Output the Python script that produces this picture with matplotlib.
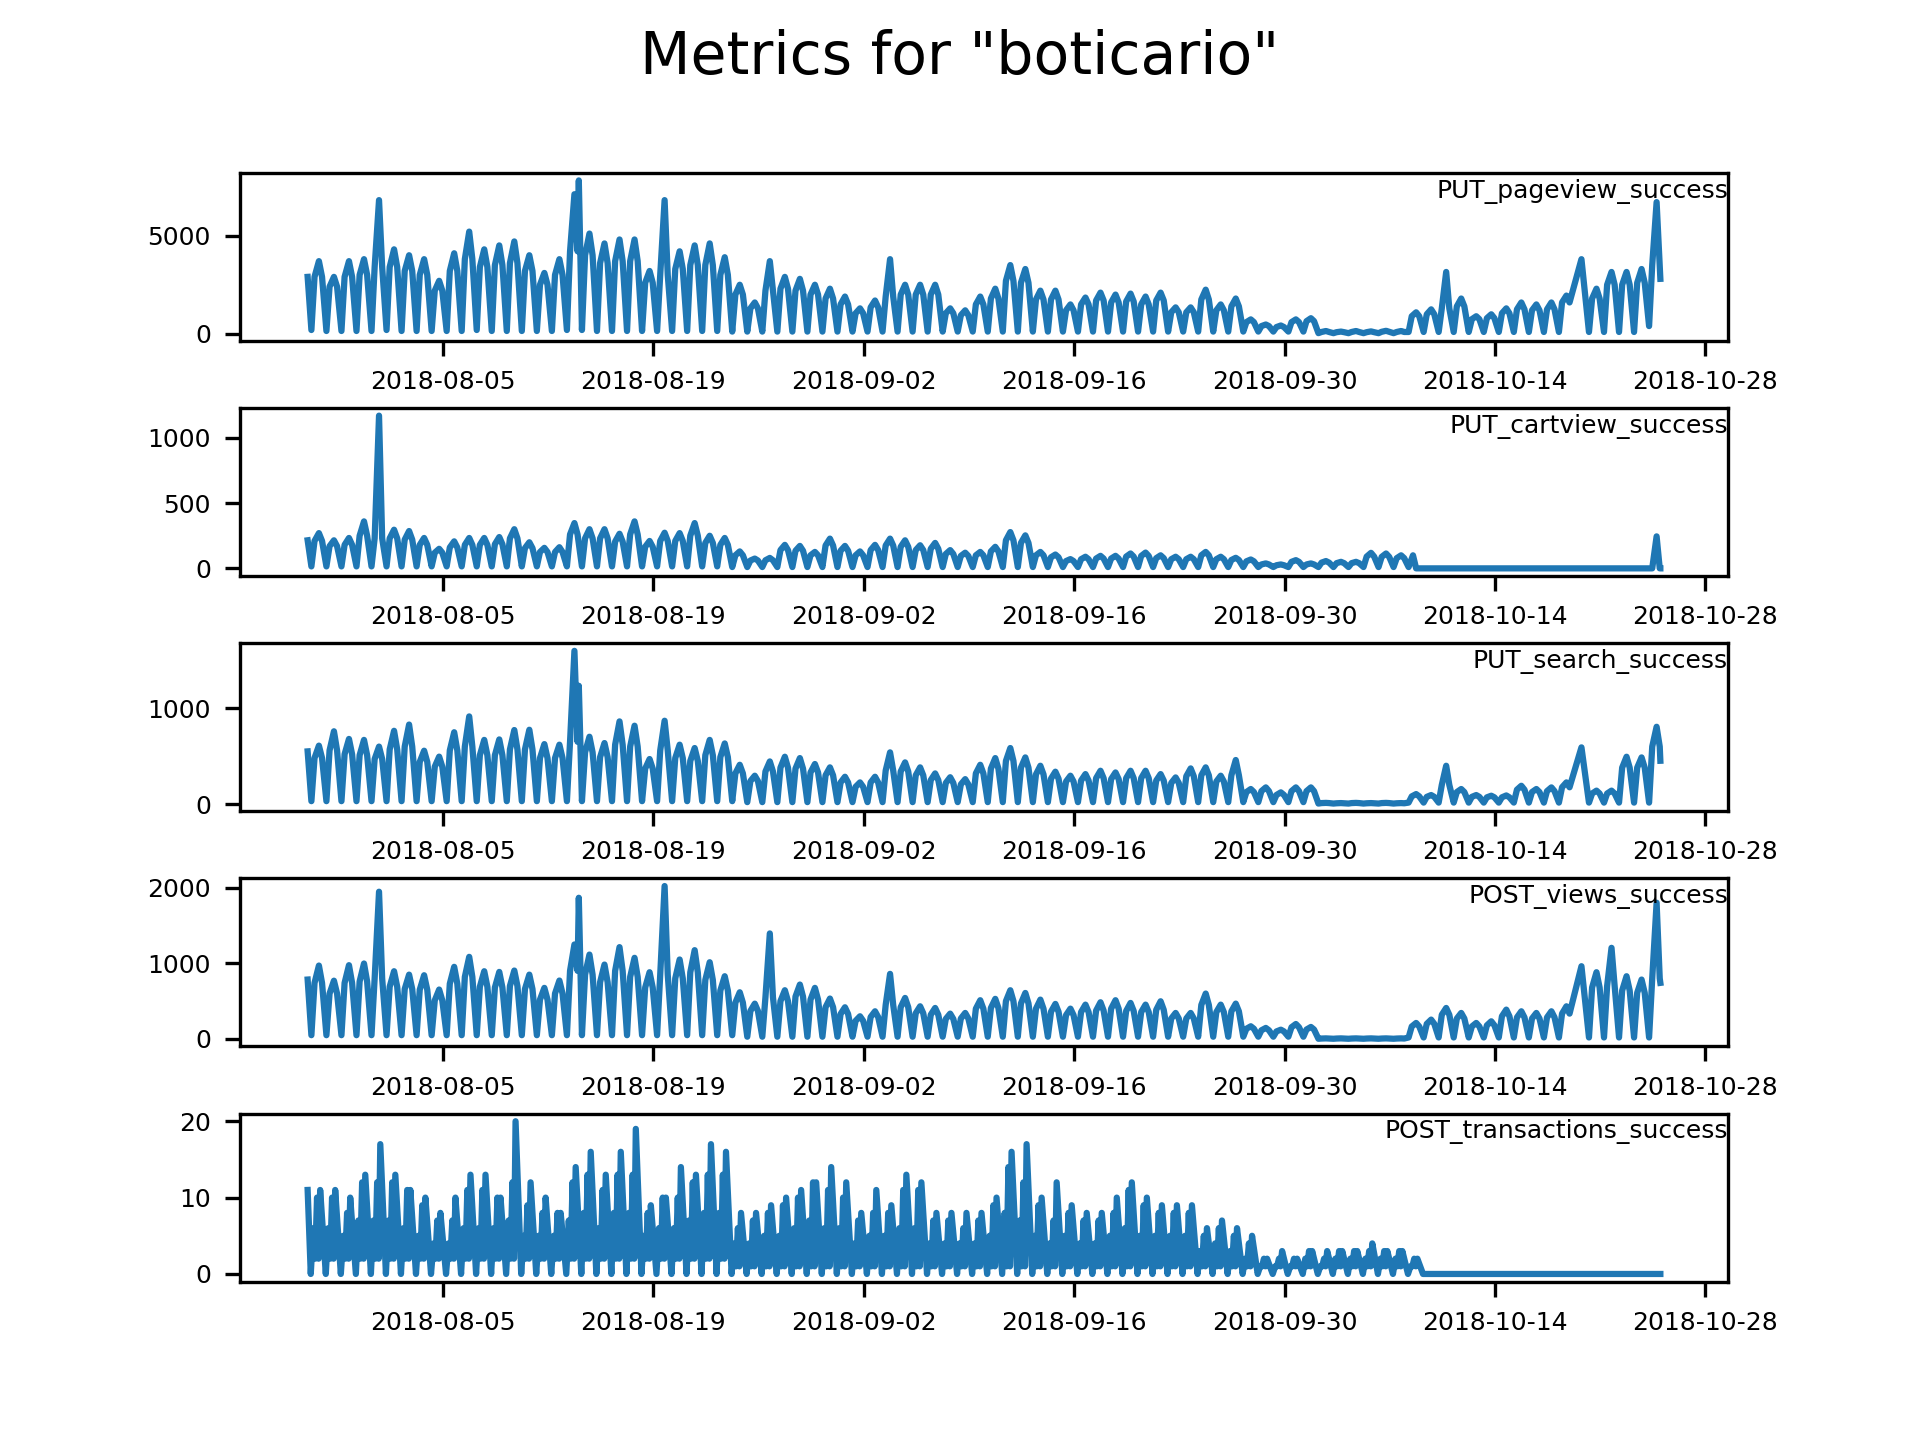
"""
Hourly success metrics for "boticario", one panel per endpoint.

Values are read off the reference chart: for each day a night trough, a
daytime plateau level and an evening peak (transactions get a morning
level, a secondary peak and a dip), plus a few isolated spikes.
"""
import matplotlib
matplotlib.use("Agg")
import matplotlib.dates as mdates
import matplotlib.pyplot as plt
import numpy as np
import pandas as pd

nan = np.nan

START = "2018-07-27 00:00"
END = "2018-10-25 00:00"
N_DAYS = 90

XTICK_DATES = ["2018-08-05", "2018-08-19", "2018-09-02", "2018-09-16",
               "2018-09-30", "2018-10-14", "2018-10-28"]

METRIC_NAMES = ["PUT_pageview_success", "PUT_cartview_success",
                "PUT_search_success", "POST_views_success",
                "POST_transactions_success"]

# ---- PUT_pageview_success ----
pageview_start, pageview_end = 2900, 2800
pageview_peak = [
    3700, 2900, 3700, 3800, 6800, 4300, 4000, 3800, 2700, 4100,
    5200, 4300, 4500, 4700, 4000, 3100, 3800, 7100, 5100, 4600,
    4800, 4800, 3200, 6800, 4200, 4500, 4600, 3900, 2500, 1600,
    3700, 2900, 2800, 2500, 2300, 1900, 1300, 1700, 3800, 2500,
    2500, 2500, 1300, 1200, 1900, 2300, 3500, 3300, 2200, 2200,
    1500, 1850, 2100, 2000, 2050, 1900, 2100, 1350, 1350, 2250,
    1500, 1800, 740, 480, 430, 740, 800, 150, 120, 150,
    130, 160, 150, 1100, 1250, 3150, 1800, 900, 1000, 1300,
    1600, 1500, 1600, 1950, 3800, 2300, 3150, 3150, 3300, 6700,
]
pageview_plateau = [
    2900, 2400, 2900, 3000, 3400, 3400, 3200, 3000, 2200, 3200,
    3800, 3400, 3500, 3600, 3200, 2500, 3000, 4200, 4000, 3600,
    3700, 3700, 2600, 3000, 3300, 3500, 3500, 3000, 2000, 1300,
    2200, 2300, 2200, 2000, 1800, 1500, 1050, 1350, 1900, 2000,
    2000, 2000, 1050, 950, 1500, 1800, 2700, 2600, 1750, 1750,
    1200, 1500, 1700, 1600, 1650, 1500, 1700, 1100, 1100, 1750,
    1200, 1400, 600, 400, 350, 600, 650, 100, 90, 100,
    90, 110, 100, 900, 1000, 1300, 1400, 750, 800, 1050,
    1250, 1200, 1250, 1600, nan, 1800, 2500, 2500, 2600, 3500,
]
pageview_trough = [
    200, 150, 150, 150, 150, 200, 150, 150, 150, 150,
    150, 200, 150, 150, 150, 150, 150, 200, 200, 150,
    150, 150, 150, 150, 150, 150, 150, 150, 120, 120,
    120, 120, 120, 120, 120, 120, 120, 120, 120, 120,
    120, 120, 120, 120, 120, 120, 120, 120, 120, 120,
    120, 120, 120, 120, 120, 120, 120, 120, 120, 120,
    120, 120, 120, 120, 120, 120, 120, 40, 40, 40,
    40, 40, 40, 100, 100, 100, 100, 100, 100, 100,
    100, 100, 100, 100, nan, 100, 100, 100, 100, 400,
]
pageview_spikes = [("2018-08-14 01:00", 7800)]

# ---- PUT_cartview_success ----
cart_start, cart_end = 215, 0
cart_peak = [
    270, 215, 233, 360, 1170, 296, 286, 233, 150, 207,
    233, 233, 240, 300, 200, 157, 162, 347, 300, 300,
    265, 360, 210, 273, 270, 347, 250, 233, 130, 75,
    80, 180, 172, 126, 228, 172, 130, 180, 228, 215,
    177, 195, 140, 120, 126, 165, 278, 253, 126, 106,
    71, 89, 96, 96, 114, 121, 100, 89, 89, 126,
    89, 81, 68, 38, 30, 63, 38, 56, 50, 50,
    119, 114, 100, 0, 0, 0, 0, 0, 0, 0,
    0, 0, 0, 0, 0, 0, 0, 0, 0, 245,
]
cart_plateau = [
    210, 170, 180, 250, 230, 230, 220, 180, 120, 160,
    180, 180, 185, 230, 155, 125, 125, 260, 230, 230,
    205, 260, 165, 210, 210, 250, 195, 180, 100, 60,
    62, 140, 135, 100, 175, 135, 100, 140, 175, 165,
    140, 150, 110, 95, 100, 130, 215, 195, 100, 85,
    56, 70, 75, 75, 90, 95, 78, 70, 70, 100,
    70, 64, 54, 30, 24, 50, 30, 44, 40, 40,
    90, 88, 78, nan, 0, 0, 0, 0, 0, 0,
    0, 0, 0, 0, 0, 0, 0, 0, 0, 0,
]
cart_trough = [
    15, 15, 15, 15, 15, 15, 15, 15, 15, 15,
    15, 15, 15, 15, 15, 15, 15, 15, 15, 15,
    15, 15, 15, 15, 15, 15, 15, 15, 10, 10,
    10, 10, 10, 10, 10, 10, 10, 10, 10, 10,
    10, 10, 10, 10, 10, 10, 10, 10, 10, 10,
    10, 10, 10, 10, 10, 10, 10, 10, 10, 10,
    10, 10, 10, 10, 10, 10, 10, 10, 10, 10,
    10, 10, 10, 10, 0, 0, 0, 0, 0, 0,
    0, 0, 0, 0, 0, 0, 0, 0, 0, 0,
]
cart_spikes = [("2018-10-08 13:00", 100)]

# ---- PUT_search_success ----
search_start, search_end = 550, 452
search_peak = [
    610, 760, 680, 670, 600, 765, 830, 557, 495, 750,
    915, 670, 675, 773, 776, 626, 620, 1600, 703, 637,
    863, 818, 470, 870, 620, 585, 670, 633, 410, 296,
    445, 494, 480, 418, 383, 285, 226, 285, 540, 435,
    383, 320, 280, 260, 410, 480, 585, 487, 400, 338,
    296, 313, 348, 330, 348, 348, 313, 278, 372, 383,
    296, 460, 157, 174, 122, 174, 174, 12, 10, 12,
    10, 12, 10, 104, 94, 400, 157, 94, 87, 90,
    191, 157, 174, 226, 592, 140, 140, 494, 487, 807,
]
search_plateau = [
    480, 560, 520, 510, 470, 570, 600, 440, 390, 560,
    600, 510, 510, 570, 570, 480, 480, 650, 540, 490,
    620, 600, 370, 560, 480, 450, 510, 490, 320, 240,
    340, 380, 370, 330, 300, 225, 180, 225, 350, 340,
    300, 250, 220, 205, 320, 370, 450, 380, 310, 265,
    235, 245, 270, 260, 270, 270, 245, 220, 290, 300,
    235, 300, 125, 135, 95, 135, 135, 10, 8, 10,
    8, 10, 8, 80, 75, 200, 125, 75, 70, 70,
    150, 125, 135, 175, nan, 110, 110, 380, 380, 600,
]
search_trough = [
    30, 30, 30, 30, 30, 30, 30, 30, 30, 30,
    30, 30, 30, 30, 30, 30, 30, 30, 30, 30,
    30, 30, 30, 30, 30, 30, 30, 30, 30, 20,
    20, 20, 20, 20, 20, 20, 20, 20, 20, 20,
    20, 20, 20, 20, 20, 20, 20, 20, 20, 20,
    20, 20, 20, 20, 20, 20, 20, 20, 20, 20,
    20, 20, 20, 20, 20, 20, 20, 5, 5, 5,
    5, 5, 5, 15, 15, 15, 15, 15, 15, 15,
    15, 15, 15, 15, nan, 15, 15, 15, 15, 15,
]
search_spikes = [("2018-08-14 01:00", 1235)]

# ---- POST_views_success ----
views_start, views_end = 785, 741
views_peak = [
    970, 770, 975, 997, 1945, 895, 850, 842, 653, 953,
    1085, 895, 886, 904, 850, 675, 772, 1248, 1115, 983,
    1213, 1072, 882, 2020, 1050, 1173, 1014, 829, 617, 467,
    1394, 644, 719, 675, 534, 419, 300, 366, 860, 542,
    432, 410, 335, 344, 512, 530, 644, 608, 520, 463,
    401, 454, 485, 512, 476, 454, 498, 344, 344, 600,
    454, 467, 168, 146, 123, 198, 159, 8, 8, 8,
    8, 8, 8, 212, 256, 410, 344, 212, 234, 388,
    366, 344, 366, 432, 961, 882, 1204, 829, 785, 1800,
]
views_plateau = [
    740, 600, 740, 760, 800, 690, 660, 650, 510, 730,
    820, 690, 680, 700, 660, 520, 600, 900, 850, 750,
    900, 820, 680, 850, 800, 880, 780, 640, 480, 370,
    550, 500, 560, 520, 420, 330, 240, 290, 450, 420,
    340, 320, 265, 270, 400, 410, 500, 470, 400, 360,
    315, 355, 375, 400, 370, 355, 385, 270, 270, 450,
    355, 365, 135, 115, 100, 155, 125, 6, 6, 6,
    6, 6, 6, 165, 200, 320, 270, 165, 180, 300,
    285, 270, 285, 335, nan, 680, 700, 640, 610, 800,
]
views_trough = [
    50, 50, 50, 50, 50, 50, 50, 50, 50, 50,
    50, 50, 50, 50, 50, 50, 50, 50, 50, 50,
    50, 50, 50, 50, 50, 50, 50, 50, 50, 30,
    30, 30, 30, 30, 30, 30, 30, 30, 30, 30,
    30, 30, 30, 30, 30, 30, 30, 30, 30, 30,
    30, 30, 30, 30, 30, 30, 30, 30, 30, 30,
    30, 30, 30, 30, 30, 30, 30, 3, 3, 3,
    3, 3, 3, 20, 20, 20, 20, 20, 20, 20,
    20, 20, 20, 20, nan, 20, 20, 20, 20, 20,
]
views_spikes = [("2018-08-14 01:00", 1865)]

# ---- POST_transactions_success ----
trans_start, trans_end = 11, 0
trans_peak = [
    11, 11, 10, 13, 17, 13, 11, 10, 8, 10,
    13, 13, 10, 20, 12, 10, 8, 14, 16, 13,
    16, 19, 9, 10, 14, 13, 17, 16, 8, 8,
    9, 10, 11, 12, 14, 12, 8, 11, 9, 13,
    12, 8, 8, 8, 8, 10, 16, 17, 10, 12,
    9, 8, 8, 10, 12, 10, 9, 9, 9, 6,
    7, 6, 5, 2, 3, 2, 3, 3, 3, 3,
    4, 3, 3, 2, 0, 0, 0, 0, 0, 0,
    0, 0, 0, 0, 0, 0, 0, 0, 0, 0,
]
trans_second = [
    10, 10, 8, 12, 12, 12, 11, 9, 7, 7,
    11, 11, 10, 12, 9, 8, 8, 12, 13, 11,
    13, 13, 8, 10, 10, 12, 13, 13, 6, 7,
    8, 9, 10, 12, 11, 10, 7, 8, 8, 11,
    11, 7, 7, 6, 7, 9, 14, 12, 9, 7,
    8, 7, 7, 8, 11, 9, 8, 8, 8, 5,
    6, 5, 4, 2, 2, 2, 3, 2, 3, 3,
    3, 3, 3, 2, 0, 0, 0, 0, 0, 0,
    0, 0, 0, 0, 0, 0, 0, 0, 0, 0,
]
trans_morning = [
    6, 6, 5, 7, 7, 7, 6, 5, 4, 4,
    6, 6, 6, 7, 5, 5, 5, 7, 8, 6,
    8, 8, 5, 6, 6, 7, 8, 8, 4, 4,
    5, 5, 6, 7, 6, 6, 4, 5, 5, 6,
    6, 4, 4, 4, 4, 5, 8, 7, 5, 4,
    5, 4, 4, 5, 6, 5, 5, 5, 5, 3,
    4, 3, 2, 1, 1, 1, 2, 1, 2, 2,
    2, 2, 2, 1, 0, 0, 0, 0, 0, 0,
    0, 0, 0, 0, 0, 0, 0, 0, 0, 0,
]
trans_dip = [
    2, 2, 2, 2, 2, 2, 2, 2, 2, 2,
    2, 2, 2, 2, 2, 2, 2, 2, 2, 2,
    2, 2, 2, 2, 2, 2, 2, 2, 1, 1,
    1, 1, 1, 1, 1, 1, 1, 1, 1, 1,
    1, 1, 1, 1, 1, 1, 1, 1, 1, 1,
    1, 1, 1, 1, 1, 1, 1, 1, 1, 1,
    1, 1, 1, 1, 1, 1, 1, 1, 1, 1,
    1, 1, 1, 1, 0, 0, 0, 0, 0, 0,
    0, 0, 0, 0, 0, 0, 0, 0, 0, 0,
]
trans_trough = [
    0, 0, 0, 0, 0, 0, 0, 0, 0, 0,
    0, 0, 0, 0, 0, 0, 0, 0, 0, 0,
    0, 0, 0, 0, 0, 0, 0, 0, 0, 0,
    0, 0, 0, 0, 0, 0, 0, 0, 0, 0,
    0, 0, 0, 0, 0, 0, 0, 0, 0, 0,
    0, 0, 0, 0, 0, 0, 0, 0, 0, 0,
    0, 0, 0, 0, 0, 0, 0, 0, 0, 0,
    0, 0, 0, 0, 0, 0, 0, 0, 0, 0,
    0, 0, 0, 0, 0, 0, 0, 0, 0, 0,
]

_FONT_SMALL = 6
_LINE_COLOR = "#1f77b4"


def build_series(start_value, end_value, daily_points, spikes=()):
    """daily_points: list of (hour of day, per-day values) pairs."""
    days = pd.date_range(START, periods=N_DAYS, freq="D")
    times = [pd.Timestamp(START)]
    values = [start_value]
    for hour, day_values in daily_points:
        for day, v in zip(days, day_values):
            times.append(day + pd.Timedelta(hours=hour))
            values.append(v)
    for t, v in spikes:
        times.append(pd.Timestamp(t))
        values.append(v)
    times.append(pd.Timestamp(END))
    values.append(end_value)
    s = pd.Series(values, index=pd.DatetimeIndex(times), dtype=float)
    return s.sort_index().dropna()


def daily_profile(trough, plateau, peak):
    return [(6, trough), (11, plateau), (18, peak), (23, plateau)]


def main():
    series = [
        build_series(pageview_start, pageview_end,
                     daily_profile(pageview_trough, pageview_plateau, pageview_peak),
                     pageview_spikes),
        build_series(cart_start, cart_end,
                     daily_profile(cart_trough, cart_plateau, cart_peak),
                     cart_spikes),
        build_series(search_start, search_end,
                     daily_profile(search_trough, search_plateau, search_peak),
                     search_spikes),
        build_series(views_start, views_end,
                     daily_profile(views_trough, views_plateau, views_peak),
                     views_spikes),
        build_series(trans_start, trans_end,
                     [(5, trans_trough), (9, trans_morning), (12, trans_dip),
                      (15, trans_second), (17.5, trans_dip), (20, trans_peak)]),
    ]

    fig, axes = plt.subplots(len(series), 1, figsize=(6.4, 4.8), dpi=300)
    fig.subplots_adjust(hspace=0.4)

    ticks = pd.to_datetime(XTICK_DATES)
    for ax, s, name in zip(axes, series, METRIC_NAMES):
        ax.plot(s.index, s.values, color=_LINE_COLOR, lw=1.5)
        ax.set_xticks(ticks)
        ax.xaxis.set_major_formatter(mdates.DateFormatter("%Y-%m-%d"))
        ax.tick_params(labelsize=_FONT_SMALL)
        ax.text(1.0, 0.965, name, transform=ax.transAxes,
                ha="right", va="top", fontsize=_FONT_SMALL)

    fig.suptitle('Metrics for "boticario"', fontsize=14)
    fig.savefig("out.png", dpi=300)
    plt.close(fig)


if __name__ == "__main__":
    main()
